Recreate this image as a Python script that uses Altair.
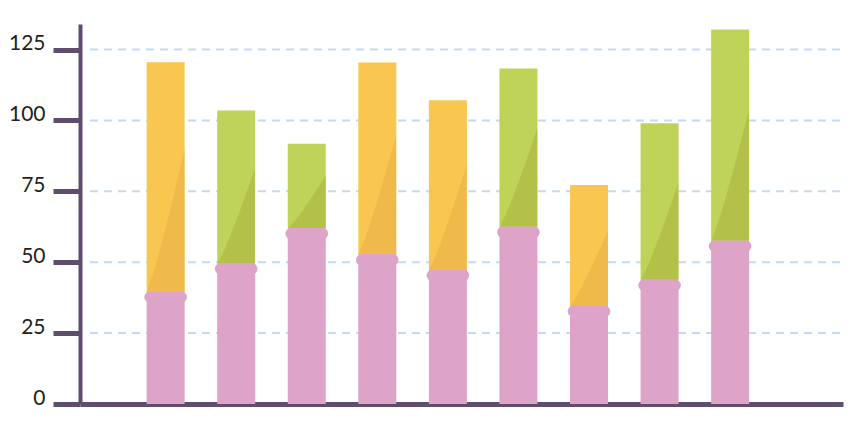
import altair as alt
import pandas as pd

# ---- data ----
bar_index = [0, 1, 2, 3, 4, 5, 6, 7, 8]
totals = [120.5, 103.5, 91.8, 120.4, 107.1, 118.3, 77.2, 99.0, 132.1]
base_values = [39.6, 49.6, 62.0, 52.8, 47.3, 62.5, 34.6, 43.8, 57.6]
top_kind = ["orange", "green", "green", "orange", "orange", "green", "orange", "green", "green"]
y_ticks = [0, 25, 50, 75, 100, 125]

# ---- styling ----
PINK = "#DDA3C8"
TOP_FILL = {"orange": "#F9C74F", "green": "#BFD358"}
TOP_SHADE = {"orange": "#F0B94B", "green": "#B3C14A"}
AXIS = "#5E4D6C"
GRID = "#C6D9EE"

W, H = 763, 380
STEP_PX = 71.5
X0 = -81.7 / STEP_PX
X_DOMAIN = [X0, X0 + W / STEP_PX]
BAR_PX = 38
HALF = BAR_PX / STEP_PX / 2

bars = pd.DataFrame({
    "i": bar_index,
    "total": totals,
    "base": base_values,
    "fill": [TOP_FILL[k] for k in top_kind],
})

# decorative darker sweep inside the upper segments
shade_rows = []
ts = [0, 0.2, 0.4, 0.6, 0.8, 1.0]
for i, tot, b, k in zip(bar_index, totals, base_values, top_kind):
    for t in ts:
        shade_rows.append({
            "i": i,
            "x": i - HALF + t * 2 * HALF,
            "lo": b,
            "hi": b + 0.62 * (tot - b) * t ** 1.15,
            "fill": TOP_SHADE[k],
        })
shade = pd.DataFrame(shade_rows)

xs = alt.Scale(domain=X_DOMAIN, nice=False, zero=False)
ys = alt.Scale(domain=[0, 134], nice=False)

x_axis = alt.Axis(labels=False, ticks=False, grid=False, title=None,
                  domainColor=AXIS, domainWidth=5)
y_axis = alt.Axis(values=y_ticks, grid=False, title=None, domainColor=AXIS,
                  domainWidth=4, tickColor=AXIS, tickWidth=5, tickSize=27,
                  labelFont="Lato", labelFontSize=21, labelColor="#222222",
                  labelPadding=8, labelOffset=-6)

grid = alt.Chart(pd.DataFrame({"v": y_ticks[1:]})).mark_rule(
    color=GRID, strokeWidth=2, strokeDash=[8, 6]
).encode(
    y=alt.Y("v:Q", scale=ys, axis=y_axis),
    x=alt.value(10),
    x2=alt.value(W),
)

top_bars = alt.Chart(bars).mark_bar(size=BAR_PX).encode(
    x=alt.X("i:Q", scale=xs, axis=x_axis),
    y=alt.Y("total:Q", scale=ys),
    y2="base:Q",
    color=alt.Color("fill:N", scale=None),
)

shades = alt.Chart(shade).mark_area(interpolate="monotone").encode(
    x=alt.X("x:Q", scale=xs),
    y=alt.Y("hi:Q", scale=ys),
    y2="lo:Q",
    detail="i:N",
    color=alt.Color("fill:N", scale=None),
)

pink_bars = alt.Chart(bars).mark_bar(size=BAR_PX, color=PINK).encode(
    x=alt.X("i:Q", scale=xs),
    y=alt.Y("base:Q", scale=ys),
    y2=alt.datum(0),
)

bars_caps = bars.assign(left=bars["i"] - 0.224, right=bars["i"] + 0.224)
caps = alt.Chart(bars_caps).mark_rule(
    color=PINK, strokeWidth=11, strokeCap="round", yOffset=5.5
).encode(
    x=alt.X("left:Q", scale=xs),
    x2="right:Q",
    y=alt.Y("base:Q", scale=ys),
)

chart = alt.layer(grid, top_bars, shades, pink_bars, caps).properties(
    width=W, height=H,
    background="white",
    autosize=alt.AutoSizeParams(type="none"),
    padding={"left": 72, "top": 16, "right": 10, "bottom": 20},
).configure_view(stroke=None, strokeWidth=0)

chart.save("out.html", embed_options={"renderer": "svg", "actions": False})
